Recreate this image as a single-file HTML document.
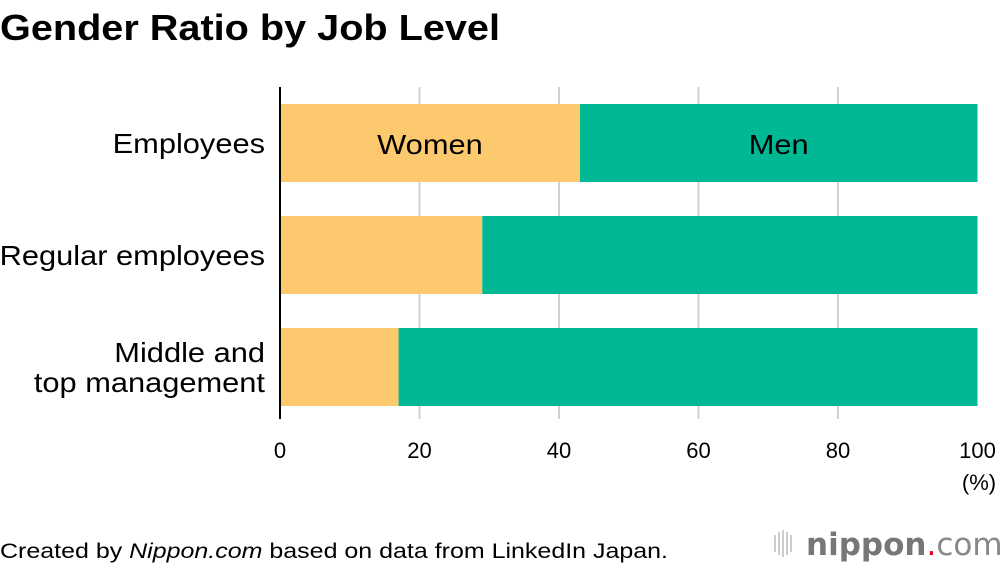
<!DOCTYPE html>
<html><head><meta charset="utf-8"><style>
body{margin:0;background:#fff;}
svg{display:block;font-family:"Liberation Sans",sans-serif;}
</style></head><body>
<svg width="1000" height="570" viewBox="0 0 1000 570" xmlns="http://www.w3.org/2000/svg">
<text x="0" y="40" font-size="36" font-weight="bold" fill="#000" textLength="500" lengthAdjust="spacingAndGlyphs">Gender Ratio by Job Level</text>
<g id="grid"></g>
<g id="bars"></g>
<g id="labels"></g>
<g id="ticks"></g>
<line x1="280" y1="87" x2="280" y2="419" stroke="#000" stroke-width="2"/>
<text x="979" y="490" font-size="22" text-anchor="middle">(%)</text>
<text x="0" y="558" font-size="21" textLength="668" lengthAdjust="spacingAndGlyphs">Created by <tspan font-style="italic">Nippon.com</tspan> based on data from LinkedIn Japan.</text>
<g>
<g fill="#ccc"><rect x="774" y="535" width="2" height="17"/><rect x="778" y="532" width="2" height="23"/><rect x="782" y="530" width="2" height="27"/><rect x="786" y="532" width="2" height="23"/><rect x="790" y="535" width="2" height="17"/></g>
<text x="806" y="555" font-size="31" font-family="DejaVu Sans, sans-serif" fill="#777"><tspan font-weight="bold">nippon</tspan><tspan fill="#e60012">.</tspan><tspan fill="#888">com</tspan></text>
</g>
</svg>
<script>
const categories=["Employees","Regular employees","Middle and top management"];
const women=[43,29,17];
const men=[57,71,83];
const ticks=[0,20,40,60,80,100];
const ns="http://www.w3.org/2000/svg";
const x=v=>280+v*6.975;
const rowTop=i=>104+i*112;
const bh=78;
function mk(tag,attrs,parent){const e=document.createElementNS(ns,tag);for(const k in attrs)e.setAttribute(k,attrs[k]);document.getElementById(parent).appendChild(e);return e;}
function widen(t,f){const w=t.getComputedTextLength();t.setAttribute('textLength',w*f);t.setAttribute('lengthAdjust','spacingAndGlyphs');}
ticks.forEach(t=>{
 if(t>0&&t<100){const l=mk('line',{x1:x(t),y1:87,x2:x(t),y2:419,stroke:'#d0d0d0','stroke-width':2},'grid');
 
 }
 const tx=mk('text',{x:x(t),y:458,'font-size':22,'text-anchor':'middle'},'ticks');tx.textContent=t;
 
 
});
categories.forEach((c,i)=>{
 const y=rowTop(i);
 const w=mk('rect',{x:x(0)+1,y:y,width:x(women[i])-x(0)-1,height:bh,fill:'#fcc96f'},'bars');
 
 
 const m=mk('rect',{x:x(women[i]),y:y,width:x(women[i]+men[i])-x(women[i]),height:bh,fill:'#00b894'},'bars');
 
 
 const parts=c==="Middle and top management"?["Middle and","top management"]:[c];
 parts.forEach((p,j)=>{
  const ty=y+bh/2+10+(parts.length>1?(j-0.5)*30:0);
  const t=mk('text',{x:265,y:ty,'font-size':28,'text-anchor':'end'},'labels');t.textContent=p;
  
  
  widen(t,1.1);
 });
});
const y0=rowTop(0)+bh/2+11;
const lw=mk('text',{x:(x(0)+x(women[0]))/2,y:y0,'font-size':28,'text-anchor':'middle'},'labels');lw.textContent='Women';


widen(lw,1.1);
const lm=mk('text',{x:(x(women[0])+x(100))/2,y:y0,'font-size':28,'text-anchor':'middle'},'labels');lm.textContent='Men';


widen(lm,1.1);
</script>
</body></html>
